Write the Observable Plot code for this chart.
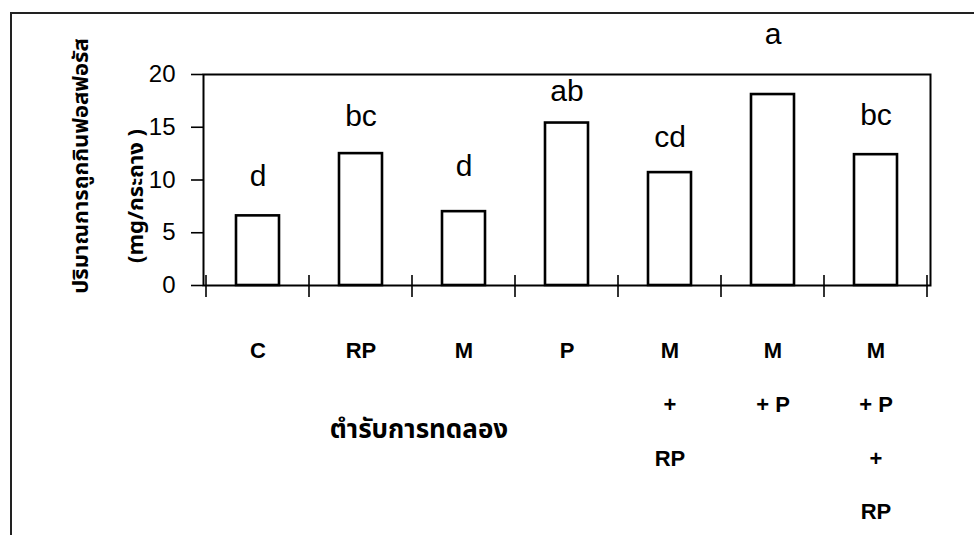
<!DOCTYPE html>
<html><head><meta charset="utf-8">
<script src="https://cdn.jsdelivr.net/npm/d3@7"></script>
<script src="https://cdn.jsdelivr.net/npm/@observablehq/plot@0.6"></script>
<style>
body{margin:0;background:#fff;}
#wrap{position:relative;width:974px;height:535px;overflow:hidden;}
#outer{position:absolute;left:10px;top:12px;width:2000px;height:2000px;border-top:2px solid #222;border-left:2px solid #222;}
#chart{position:absolute;left:0;top:0;}
</style></head><body>
<div id="wrap"><div id="outer"></div><div id="chart"></div></div>
<script>
const categories = ["C","RP","M","P","M+RP","M+P","M+P+RP"];
const tickLabels = ["C","RP","M","P","M\n+\nRP","M\n+ P","M\n+ P\n+\nRP"];
const values = [6.6,12.5,7.0,15.4,10.7,18.1,12.4];
const letters = ["d","bc","d","ab","cd","a","bc"];
const letterY = [9.4,15.1,10.4,17.5,13.1,22.9,15.2];
const yTicks = [0,5,10,15,20];
const yTitle = "ปริมาณการถูกกินฟอสฟอรัส";
const yUnit = "(mg/กระถาง )";
const xTitle = "ตำรับการทดลอง";

const latin = "Liberation Sans, Arial, sans-serif";
const thai = "Noto Sans Thai, Loma, Garuda, Tlwg Typo, Noto Sans, sans-serif";

const data = categories.map((c,i)=>({cat:c, value:values[i], letter:letters[i], ly:letterY[i], label:tickLabels[i]}));

function boundaryTicks(index, scales, values, dims) {
  const x = scales.x, y = scales.y;
  const n = categories.length;
  const step = typeof x.step === "function" ? x.step() : (dims.width - dims.marginLeft - dims.marginRight)/n;
  const bw = typeof x.bandwidth === "function" ? x.bandwidth() : step*0.415;
  const off = (step - bw)/2;
  const xs = categories.map(c => x(c) - off);
  xs.push(x(categories[n-1]) + bw + off);
  const y0 = y(0);
  const g = d3.create("svg:g").attr("stroke","black").attr("stroke-width",1.6);
  for (const xv of xs) g.append("line").attr("x1",xv).attr("x2",xv).attr("y1",y0-10).attr("y2",y0+12);
  return g.node();
}

const chart = Plot.plot({
  width:974, height:535,
  marginLeft:203, marginRight:44, marginTop:74, marginBottom:250,
  style:{fontFamily:latin, background:"transparent", color:"#000"},
  x:{domain:categories, paddingInner:0.585, paddingOuter:0.2925, axis:null},
  y:{domain:[0,20], axis:null},
  marks:[
    Plot.barY(data,{x:"cat", y:"value", fill:"white", stroke:"black", strokeWidth:2.6}),
    Plot.frame({stroke:"black", strokeWidth:2}),
    Plot.axisY(yTicks, {tickSize:12, tickPadding:16, fontSize:24, strokeWidth:1.6, tickFormat:d=>String(d)}),
    boundaryTicks,
    Plot.text(data,{x:"cat", text:"label", frameAnchor:"bottom", lineAnchor:"top", dy:34, lineHeight:2.45, fontSize:22, fontWeight:"bold"}),
    Plot.text(data,{x:"cat", y:"ly", text:"letter", lineAnchor:"bottom", dy:0, fontSize:30}),
    Plot.text([yTitle], {text:d=>d, frameAnchor:"left", textAnchor:"middle", rotate:-90, dx:-123, dy:-14, fontSize:22, fontWeight:"bold", fontFamily:thai}),
    Plot.text([yUnit], {text:d=>d, frameAnchor:"left", textAnchor:"middle", rotate:-90, dx:-68, dy:16, fontSize:22, fontWeight:"bold", fontFamily:thai}),
    Plot.text([xTitle], {text:d=>d, frameAnchor:"bottom", textAnchor:"middle", dx:-148, dy:152, fontSize:26, fontWeight:"bold", fontFamily:thai})
  ]
});
document.getElementById("chart").appendChild(chart);
</script>
</body></html>
